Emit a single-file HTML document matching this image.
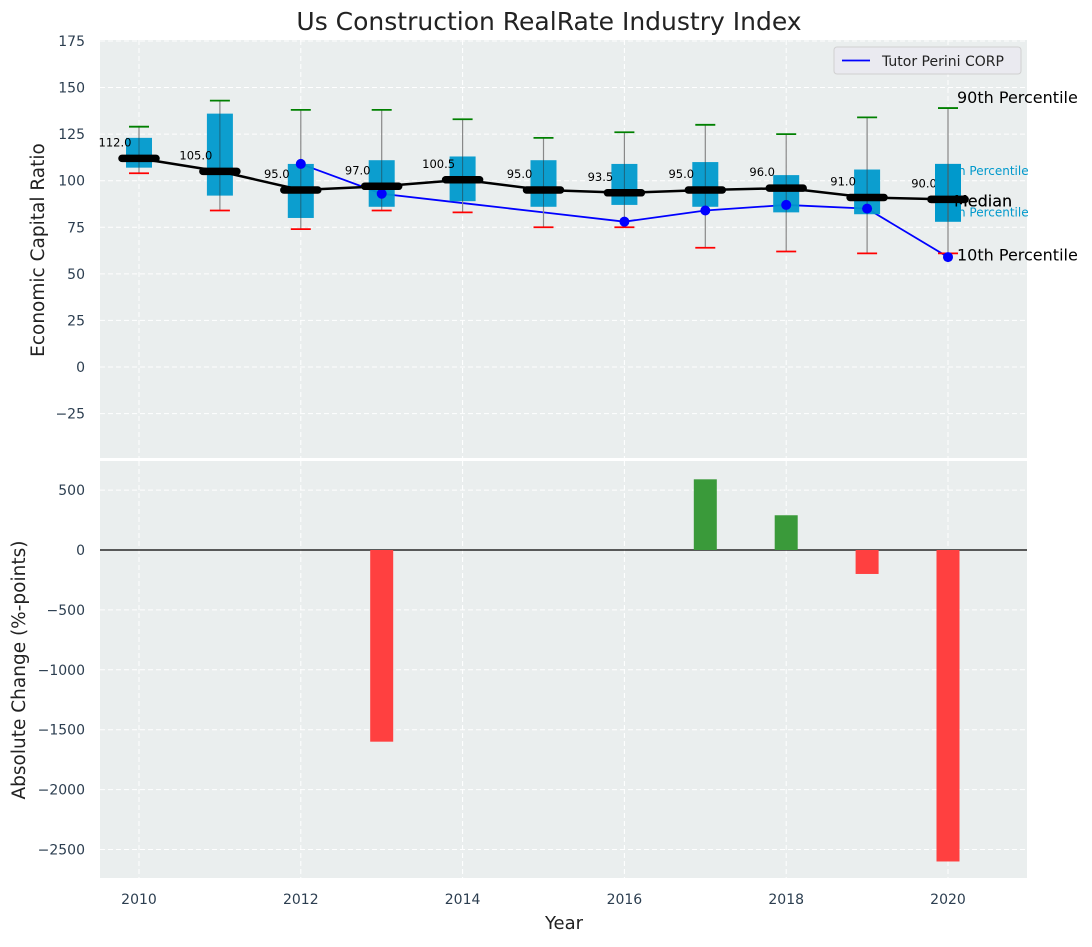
<!DOCTYPE html>
<html><head><meta charset="utf-8"><style>
body{margin:0;background:#fff;font-family:"Liberation Sans","DejaVu Sans",sans-serif}
svg text{font-family:"DejaVu Sans","Liberation Sans",sans-serif}
</style></head><body>
<svg id="c" width="1092" height="942" xmlns="http://www.w3.org/2000/svg"></svg>
<script>
const years=[2010,2011,2012,2013,2014,2015,2016,2017,2018,2019,2020];
const p10=[104,84,74,84,83,75,75,64,62,61,61];
const p25=[107,92,80,86,89,86,87,86,83,82,78];
const medians=[112,105,95,97,100.5,95,93.5,95,96,91,90];
const p75=[123,136,109,111,113,111,109,110,103,106,109];
const p90=[129,143,138,138,133,123,126,130,125,134,139];
const compYears=[2012,2013,2014,2015,2016,2017,2018,2019,2020];
const compVals=[109,93,88,83,78,84,87,85,59];
const compMarker=[1,1,0,0,1,1,1,1,1];
const changes=[0,0,0,-1600,0,0,0,590,290,-200,-2600];
const yTicksTop=[175,150,125,100,75,50,25,0,-25];
const yTicksBot=[500,0,-500,-1000,-1500,-2000,-2500];
const xTicks=[2010,2012,2014,2016,2018,2020];

const svg=document.getElementById('c');const NS='http://www.w3.org/2000/svg';
function el(t,a,txt){const e=document.createElementNS(NS,t);for(const k in a)e.setAttribute(k,a[k]);if(txt!==undefined)e.textContent=txt;svg.appendChild(e);return e;}
const L=100,R=1027;
const x=v=>139+(v-2010)*80.9;
const yT=v=>367-v*1.863;
const yB=v=>550-v*0.1198;
const T0=40,T1=458,B0=461,B1=878;

let e=el('rect',{x:L,y:T0,width:R-L,height:T1-T0,fill:'#eaeeee'});

e=el('rect',{x:L,y:B0,width:R-L,height:B1-B0,fill:'#eaeeee'});


xTicks.forEach(t=>{[[T0,T1],[B0,B1]].forEach(([a,b])=>el('line',{x1:x(t),x2:x(t),y1:a,y2:b,stroke:'#fff','stroke-dasharray':'5,3','stroke-width':1}));});
yTicksTop.forEach(t=>{el('line',{x1:L,x2:R,y1:yT(t),y2:yT(t),stroke:'#fff','stroke-dasharray':'5,3'});
 e=el('text',{x:L-15,y:yT(t)+5,'text-anchor':'end','font-size':14,fill:'#2c3e50'},t<0?'\u221225':String(t));
 });
yTicksBot.forEach(t=>{el('line',{x1:L,x2:R,y1:yB(t),y2:yB(t),stroke:'#fff','stroke-dasharray':'5,3'});
 e=el('text',{x:L-15,y:yB(t)+5,'text-anchor':'end','font-size':14,fill:'#2c3e50'},String(t).replace('-','\u2212'));
 });
xTicks.forEach(t=>{e=el('text',{x:x(t),y:904,'text-anchor':'middle','font-size':14,fill:'#2c3e50'},String(t));
 });

let pts=compYears.map((yy,i)=>x(yy)+','+yT(compVals[i])).join(' ');
e=el('polyline',{points:pts,fill:'none',stroke:'#0000ff','stroke-width':1.8});


years.forEach((yy,i)=>{const cx=x(yy);
 el('line',{x1:cx,x2:cx,y1:yT(p10[i]),y2:yT(p90[i]),stroke:'#888','stroke-width':1.2});
 e=el('rect',{x:cx-13,y:yT(p75[i]),width:26,height:yT(p25[i])-yT(p75[i]),fill:'#0099cc','fill-opacity':0.95});
 
 el('line',{x1:cx,x2:cx,y1:yT(p75[i]),y2:yT(p25[i]),stroke:'#333','stroke-width':1,'stroke-opacity':0.5});
 el('line',{x1:cx-10,x2:cx+10,y1:yT(p90[i]),y2:yT(p90[i]),stroke:'green','stroke-width':1.8});
 el('line',{x1:cx-10,x2:cx+10,y1:yT(p10[i]),y2:yT(p10[i]),stroke:'red','stroke-width':1.8});
});
compYears.forEach((yy,i)=>{if(compMarker[i]){e=el('circle',{cx:x(yy),cy:yT(compVals[i]),r:5,fill:'#0000ff'});
 }});

pts=years.map((yy,i)=>x(yy)+','+yT(medians[i])).join(' ');
e=el('polyline',{points:pts,fill:'none',stroke:'#000','stroke-width':2.5});

years.forEach((yy,i)=>{const cx=x(yy);
 el('line',{x1:cx-17,x2:cx+17,y1:yT(medians[i]),y2:yT(medians[i]),stroke:'#000','stroke-width':7.5,'stroke-linecap':'round'});
 e=el('text',{x:cx-24,y:yT(medians[i])-12,'text-anchor':'middle','font-size':11.5,fill:'#000'},medians[i].toFixed(1));
 });

const ax=x(2020);
[['90th Percentile',yT(p90[10])-5,16,'#000',ax+9],['75th Percentile',yT(p75[10])+11,12,'#0099cc',ax-10],['Median',yT(medians[10])+7,16,'#000',ax+6],['25th Percentile',yT(p25[10])-5,12,'#0099cc',ax-10],['10th Percentile',yT(p10[10])+7,16,'#000',ax+9]].forEach(a=>{
 e=el('text',{x:a[4],y:a[1],'font-size':a[2],fill:a[3]},a[0]);});
el('rect',{x:ax-13,y:yT(p75[10]),width:26,height:yT(p25[10])-yT(p75[10]),fill:'#0099cc'});
el('line',{x1:ax,x2:ax,y1:yT(p75[10]),y2:yT(p25[10]),stroke:'#555','stroke-width':1});
el('line',{x1:ax-17,x2:ax+17,y1:yT(medians[10]),y2:yT(medians[10]),stroke:'#000','stroke-width':7.5,'stroke-linecap':'round'});
e=el('text',{x:ax+6,y:yT(medians[10])+7,'font-size':16,fill:'#000'},'Median');

e=el('rect',{x:834,y:47,width:187,height:27,rx:3,fill:'#eaeaf0',stroke:'#d0d0d0'});

el('line',{x1:842,x2:870,y1:60.5,y2:60.5,stroke:'#0000ff','stroke-width':1.8});
e=el('text',{x:882,y:66,'font-size':14,fill:'#222'},'Tutor Perini CORP');


el('line',{x1:L,x2:R,y1:yB(0),y2:yB(0),stroke:'#000','stroke-width':1.2});
years.forEach((yy,i)=>{const v=changes[i];if(!v)return;
 e=el('rect',{x:x(yy)-11.5,y:Math.min(yB(0),yB(v)),width:23,height:Math.abs(yB(v)-yB(0)),fill:v>0?'#3a9a3a':'#ff4040'});
 });

e=el('text',{x:549,y:30,'text-anchor':'middle','font-size':25,fill:'#222'},'Us Construction RealRate Industry Index');

e=el('text',{x:564,y:929,'text-anchor':'middle','font-size':18,fill:'#222'},'Year');

e=el('text',{x:44,y:250,'text-anchor':'middle','font-size':18.5,fill:'#222',transform:'rotate(-90 44 250)'},'Economic Capital Ratio');

e=el('text',{x:25,y:670,'text-anchor':'middle','font-size':18.5,fill:'#222',transform:'rotate(-90 25 670)'},'Absolute Change (%-points)');

</script>
</body></html>
